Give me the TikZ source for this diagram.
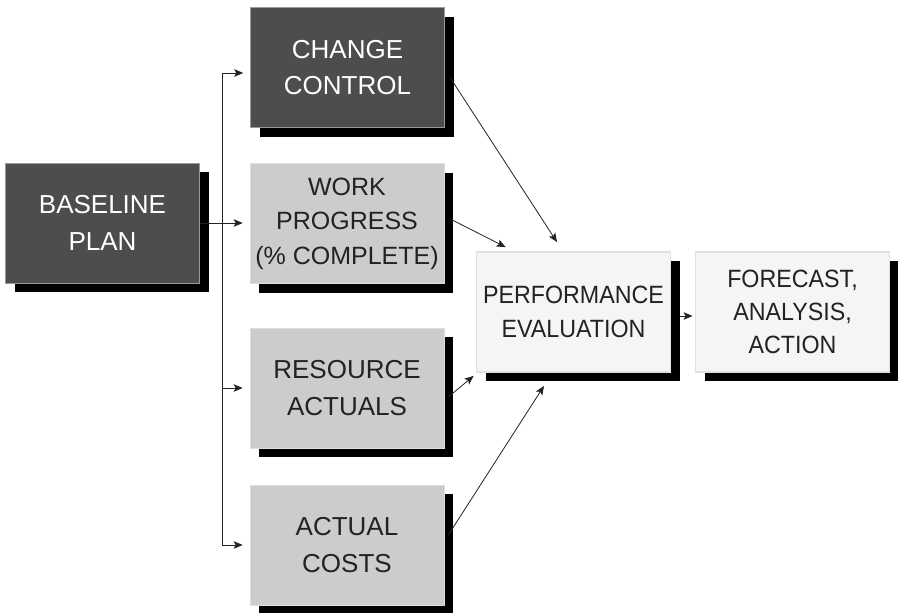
\documentclass[tikz,border=0pt]{standalone}
\usepackage{fontspec}
\setmainfont{Liberation Sans}
\newfontfamily\condfont{Liberation Sans}[FakeStretch=0.93]
\usetikzlibrary{arrows.meta,calc,shadows}
\definecolor{darkbox}{HTML}{4D4D4D}
\definecolor{darkedge}{HTML}{9A9A9A}
\definecolor{graybox}{HTML}{CCCCCC}
\definecolor{grayedge}{HTML}{DDDDDD}
\definecolor{lightbox}{HTML}{F5F5F5}
\definecolor{lightedge}{HTML}{E0E0E0}
\definecolor{txt}{HTML}{222222}
\definecolor{linec}{HTML}{222222}
\begin{document}
\begin{tikzpicture}[x=1pt,y=-1pt,
  box/.style={rectangle, minimum width=194pt, minimum height=120pt, inner sep=0pt,
    align=center, font=\fontsize{26}{36.5}\selectfont,
    drop shadow={shadow xshift=9pt, shadow yshift=-9pt, fill=black, opacity=1}},
  three/.style={font=\fontsize{25}{34.5}\selectfont},
  cond/.style={font=\condfont\fontsize{25}{34}\selectfont},
  cond3/.style={font=\condfont\fontsize{25}{33}\selectfont},
  darkbx/.style={box, fill=darkbox, draw=darkedge, line width=0.5pt, text=white},
  graybx/.style={box, fill=graybox, draw=grayedge, line width=0.6pt, text=txt},
  lightbx/.style={box, fill=lightbox, draw=lightedge, line width=1.8pt, text=txt},
  arr/.style={draw=linec, line width=0.8pt, -{Stealth[length=9pt,width=7.5pt,inset=2pt]}},
  plain/.style={draw=linec, line width=0.8pt}]
\useasboundingbox (0,0) rectangle (898,613);

\node[darkbx] (base) at (102.5,223) {BASELINE\\PLAN};
\node[darkbx] (cc) at (347.5,67.5) {CHANGE\\CONTROL};
\node[graybx,three] (wp) at (347,223.5) {WORK\\PROGRESS\\(\% COMPLETE)};
\node[graybx] (ra) at (347,388) {RESOURCE\\ACTUALS};
\node[graybx] (ac) at (347,545) {ACTUAL\\COSTS};
\node[lightbx,cond] (pe) at (573.5,312) {PERFORMANCE\\EVALUATION};
\node[lightbx,cond3] (fc) at (792.5,312) {FORECAST,\\ANALYSIS,\\ACTION};

% trunk from baseline plan
\coordinate (ttop) at (222,73);
\coordinate (tbot) at (222,545);
\draw[plain] (ttop) -- (tbot);
\draw[arr, shorten >=7pt] (ttop) -- (ttop -| cc.west);
\draw[arr, shorten >=7pt] (base.east) -- (base.east -| wp.west);
\draw[arr, shorten >=7pt] (ttop |- ra.west) -- (ra.west);
\draw[arr, shorten >=7pt] (tbot) -- (ac.west);

% into performance evaluation
\draw[arr] ($(cc.east)+(5,9.5)$) -- ($(pe.north)+(-16.5,-9)$);
\draw[arr] ($(wp.east)+(6,-4.5)$) -- ($(pe.north west)+(30,-4)$);
\draw[arr] ($(ra.east)+(4,9)$) -- ($(pe.south west)+(-2,3)$);
\draw[arr] ($(ac.east)+(4,-10)$) -- ($(pe.south)+(-29.5,13)$);

% to forecast
\draw[arr] ($(pe.east)+(9,4)$) -- ($(fc.west)+(-2,4)$);
\end{tikzpicture}
\end{document}
